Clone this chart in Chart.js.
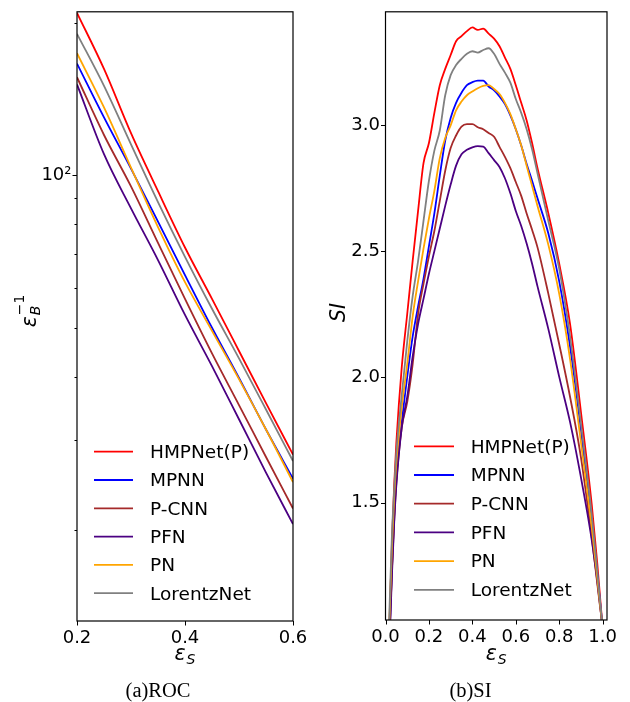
<!DOCTYPE html>
<html>
<head>
<meta charset="utf-8">
<script src="https://cdn.jsdelivr.net/npm/chart.js@4.4.1/dist/chart.umd.min.js"></script>
<style>
  html, body { margin: 0; padding: 0; background: #fff; }
  #wrap { position: relative; width: 630px; height: 702px; }
  canvas { position: absolute; top: 0; }
  #roc { left: 0; }
  #si { left: 315px; }
</style>
</head>
<body>
<div id="wrap">
  <canvas id="roc" width="315" height="702"></canvas>
  <canvas id="si" width="315" height="702"></canvas>
</div>
<script>
const models = ["HMPNet(P)", "MPNN", "P-CNN", "PFN", "PN", "LorentzNet"];
const colors = ["#ff0000", "#0000ff", "#a52a2a", "#4b0082", "#ffa500", "#808080"];

// (a) ROC: background rejection 1/eps_B vs signal efficiency
const rocX = [0.2, 0.25, 0.3, 0.35, 0.4, 0.45, 0.5, 0.55, 0.6];
const rocHMPNet = [209, 162, 121, 93, 72, 57, 45, 35.5, 28.1];
const rocMPNN = [166, 130, 103, 81, 63.5, 50, 39.8, 31.5, 25.2];
const rocPCNN = [156, 120, 95, 73.5, 57, 44.5, 35.2, 27.8, 22.0];
const rocPFN = [151, 110, 86, 68, 53, 42, 33, 25.9, 20.5];
const rocPN = [174, 136, 103.5, 79, 61.5, 49.3, 39.6, 31.5, 24.8];
const rocLorentz = [190, 150, 115, 88.5, 69, 54.5, 43.5, 34.5, 27.3];
const rocXTicks = [0.2, 0.4, 0.6];
const rocYTicks = [20, 30, 40, 50, 60, 70, 80, 90, 100, 200];
const rocYMajor = [100];

// (b) SI: significance improvement vs signal efficiency
const siX = [0.01, 0.02, 0.03, 0.04, 0.05, 0.075, 0.1, 0.125, 0.15, 0.175,
             0.2, 0.225, 0.25, 0.275, 0.3, 0.325, 0.35, 0.375, 0.4, 0.425, 0.45,
             0.475, 0.5, 0.525, 0.55, 0.575, 0.6, 0.625, 0.65, 0.675, 0.7,
             0.75, 0.8, 0.85, 0.9, 0.95, 0.975, 1.0];
const siHMPNet = [0.80, 1.06, 1.35, 1.57, 1.74, 2.04, 2.25, 2.46, 2.66, 2.85,
                  2.93, 3.05, 3.16, 3.225, 3.28, 3.335, 3.355, 3.375, 3.39, 3.38, 3.385,
                  3.365, 3.345, 3.315, 3.27, 3.225, 3.16, 3.09, 3.02, 2.93, 2.83,
                  2.65, 2.45, 2.21, 1.86, 1.49, 1.26, 1.0];
const siMPNN = [0.75, 1.0, 1.25, 1.45, 1.60, 1.82, 2.0, 2.16, 2.28, 2.39,
                2.52, 2.65, 2.80, 2.94, 3.03, 3.09, 3.13, 3.16, 3.172, 3.178, 3.178,
                3.155, 3.14, 3.115, 3.085, 3.04, 2.985, 2.92, 2.847, 2.78, 2.71,
                2.57, 2.38, 2.12, 1.79, 1.42, 1.22, 1.0];
const siPCNN = [0.75, 1.0, 1.24, 1.43, 1.58, 1.80, 1.90, 2.05, 2.25, 2.37,
                2.48, 2.58, 2.70, 2.82, 2.91, 2.96, 2.995, 3.005, 3.005, 2.993, 2.985,
                2.97, 2.955, 2.915, 2.875, 2.83, 2.775, 2.72, 2.65, 2.585, 2.515,
                2.33, 2.13, 1.92, 1.68, 1.36, 1.18, 1.0];
const siPFN = [0.72, 0.98, 1.22, 1.42, 1.57, 1.80, 1.92, 2.08, 2.21, 2.31,
               2.41, 2.50, 2.59, 2.68, 2.765, 2.84, 2.885, 2.903, 2.913, 2.918, 2.916,
               2.89, 2.862, 2.835, 2.79, 2.73, 2.66, 2.60, 2.53, 2.45, 2.36,
               2.19, 2.00, 1.82, 1.60, 1.35, 1.19, 1.0];
const siPN = [0.80, 1.08, 1.33, 1.52, 1.66, 1.88, 2.05, 2.24, 2.38, 2.51,
              2.63, 2.74, 2.87, 2.95, 3.00, 3.06, 3.095, 3.12, 3.135, 3.148, 3.157,
              3.16, 3.145, 3.125, 3.09, 3.045, 2.985, 2.92, 2.84, 2.76, 2.68,
              2.525, 2.33, 2.07, 1.74, 1.40, 1.20, 1.0];
const siLorentz = [0.85, 1.12, 1.38, 1.55, 1.70, 1.93, 2.14, 2.32, 2.46, 2.62,
                   2.78, 2.90, 2.98, 3.12, 3.20, 3.24, 3.265, 3.285, 3.295, 3.29, 3.30,
                   3.307, 3.285, 3.245, 3.21, 3.17, 3.105, 3.05, 2.985, 2.905, 2.81,
                   2.62, 2.43, 2.16, 1.815, 1.45, 1.23, 1.0];
const siXTicks = [0, 0.2, 0.4, 0.6, 0.8, 1.0];
const siYTicks = [1.5, 2.0, 2.5, 3.0];

Chart.defaults.font.family = "'DejaVu Sans', sans-serif";
Chart.defaults.font.size = 18;
Chart.defaults.color = "#000";

function series(xs, lists) {
  return lists.map((ys, i) => ({
    label: models[i],
    data: xs.map((x, j) => ({ x: x, y: ys[j] })),
    borderColor: colors[i],
    backgroundColor: colors[i],
    borderWidth: 1.8,
    pointRadius: 0,
    cubicInterpolationMode: "monotone",
    order: lists.length - i
  }));
}

// math-style label: italic base with stacked sub/superscript
function drawSym(ctx, cx, cy, base, sub, sup, rot) {
  ctx.save();
  ctx.translate(cx, cy);
  if (rot) ctx.rotate(-Math.PI / 2);
  const big = "italic 20.5px 'DejaVu Sans'";
  const small = "italic 14px 'DejaVu Sans'";
  const up = "14px 'DejaVu Sans'";
  ctx.font = big;
  const wb = ctx.measureText(base).width;
  ctx.font = small;
  const ws = sub ? ctx.measureText(sub).width : 0;
  ctx.font = up;
  const wp = sup ? ctx.measureText(sup).width : 0;
  const w = wb + 1 + Math.max(ws, wp);
  let x = -w / 2;
  ctx.fillStyle = "#000";
  ctx.textAlign = "left";
  ctx.textBaseline = "alphabetic";
  ctx.font = big;
  ctx.fillText(base, x, 0);
  x += wb + 1;
  if (sub) { ctx.font = small; ctx.fillText(sub, x, 4); }
  if (sup) { ctx.font = up; ctx.fillText(sup, x, -12); }
  ctx.restore();
}

function makeFrame(cfg) {
  return {
    id: "frame",
    afterDraw(chart) {
      const ctx = chart.ctx, a = chart.chartArea;
      const xs = chart.scales.x, ys = chart.scales.y;
      ctx.save();
      // tick marks
      ctx.strokeStyle = "#000";
      ctx.lineWidth = 1;
      ctx.beginPath();
      xs.ticks.forEach(t => {
        const p = Math.round(xs.getPixelForValue(t.value)) + 0.5;
        ctx.moveTo(p, a.bottom);
        ctx.lineTo(p, a.bottom + 4.5);
      });
      ys.ticks.forEach(t => {
        const p = Math.round(ys.getPixelForValue(t.value)) + 0.5;
        const len = cfg.major && !cfg.major.includes(t.value) ? 2.5 : 4.5;
        ctx.moveTo(a.left - len, p);
        ctx.lineTo(a.left, p);
      });
      ctx.stroke();
      // box
      ctx.lineWidth = 1.2;
      ctx.strokeRect(a.left, a.top, a.right - a.left, a.bottom - a.top);
      // legend
      ctx.font = "18.5px 'DejaVu Sans'";
      ctx.textAlign = "left";
      ctx.textBaseline = "middle";
      chart.data.datasets.forEach((d, i) => {
        const y = a.bottom - cfg.legTop + i * cfg.legStep;
        ctx.strokeStyle = d.borderColor;
        ctx.lineWidth = 1.8;
        ctx.beginPath();
        ctx.moveTo(a.left + cfg.legX0, y);
        ctx.lineTo(a.left + cfg.legX1, y);
        ctx.stroke();
        ctx.fillStyle = "#000";
        ctx.fillText(d.label, a.left + cfg.legTx, y + 1.5);
      });
      // axis titles
      const mx = (a.left + a.right) / 2;
      drawSym(ctx, mx, 660, "\u03b5", "S", null, false);
      cfg.yTitle(ctx);
      // caption
      ctx.font = "20.5px 'Liberation Serif', serif";
      ctx.textAlign = "center";
      ctx.textBaseline = "alphabetic";
      ctx.fillStyle = "#000";
      ctx.fillText(cfg.caption, cfg.capX, 697);
      ctx.restore();
    }
  };
}

function fixedTicks(list) {
  return scale => { scale.ticks = list.map(v => ({ value: v })); };
}

new Chart(document.getElementById("roc"), {
  type: "line",
  data: { datasets: series(rocX, [rocHMPNet, rocMPNN, rocPCNN, rocPFN, rocPN, rocLorentz]) },
  options: {
    responsive: false,
    animation: false,
    layout: { padding: { left: 0, top: 8, right: 22, bottom: 0 } },
    plugins: { legend: { display: false }, tooltip: { enabled: false } },
    scales: {
      x: {
        type: "linear", min: 0.2, max: 0.6,
        afterBuildTicks: fixedTicks(rocXTicks),
        afterFit: s => { s.height = 81; },
        grid: { drawOnChartArea: false, tickLength: 4.5, color: "rgba(0,0,0,0)" },
        border: { display: false },
        ticks: { autoSkip: false, maxRotation: 0, padding: 2, callback: v => v.toFixed(1) }
      },
      y: {
        type: "logarithmic", min: 13.2, max: 210,
        afterBuildTicks: fixedTicks(rocYTicks),
        afterFit: s => { s.width = 77; },
        grid: { drawOnChartArea: false, tickLength: 4.5, color: "rgba(0,0,0,0)" },
        border: { display: false },
        ticks: { autoSkip: false, padding: 1, callback: v => (v === 100 ? "10\u00b2" : "") }
      }
    }
  },
  plugins: [makeFrame({
    major: rocYMajor,
    legTop: 169.3, legStep: 28.3, legX0: 17, legX1: 56, legTx: 73,
    caption: "(a)ROC", capX: 158,
    yTitle: ctx => drawSym(ctx, 36, 311, "\u03b5", "B", "\u22121", true)
  })]
});

new Chart(document.getElementById("si"), {
  type: "line",
  data: { datasets: series(siX, [siHMPNet, siMPNN, siPCNN, siPFN, siPN, siLorentz]) },
  options: {
    responsive: false,
    animation: false,
    layout: { padding: { left: 0, top: 6.7, right: 23, bottom: 0 } },
    plugins: { legend: { display: false }, tooltip: { enabled: false } },
    scales: {
      x: {
        type: "linear", min: 0, max: 1.02,
        afterBuildTicks: fixedTicks(siXTicks),
        afterFit: s => { s.height = 82; },
        grid: { drawOnChartArea: false, tickLength: 4.5, color: "rgba(0,0,0,0)" },
        border: { display: false },
        ticks: { autoSkip: false, maxRotation: 0, padding: 2, callback: v => v.toFixed(1) }
      },
      y: {
        type: "linear", min: 1.033, max: 3.452,
        afterBuildTicks: fixedTicks(siYTicks),
        afterFit: s => { s.width = 70.5; },
        grid: { drawOnChartArea: false, tickLength: 4.5, color: "rgba(0,0,0,0)" },
        border: { display: false },
        ticks: { autoSkip: false, padding: 1, callback: v => v.toFixed(1) }
      }
    }
  },
  plugins: [makeFrame({
    major: null,
    legTop: 173.7, legStep: 28.7, legX0: 28.5, legX1: 68.5, legTx: 85.2,
    caption: "(b)SI", capX: 155.5,
    yTitle: ctx => drawSym(ctx, 30, 312, "SI", null, null, true)
  })]
});
</script>
</body>
</html>
